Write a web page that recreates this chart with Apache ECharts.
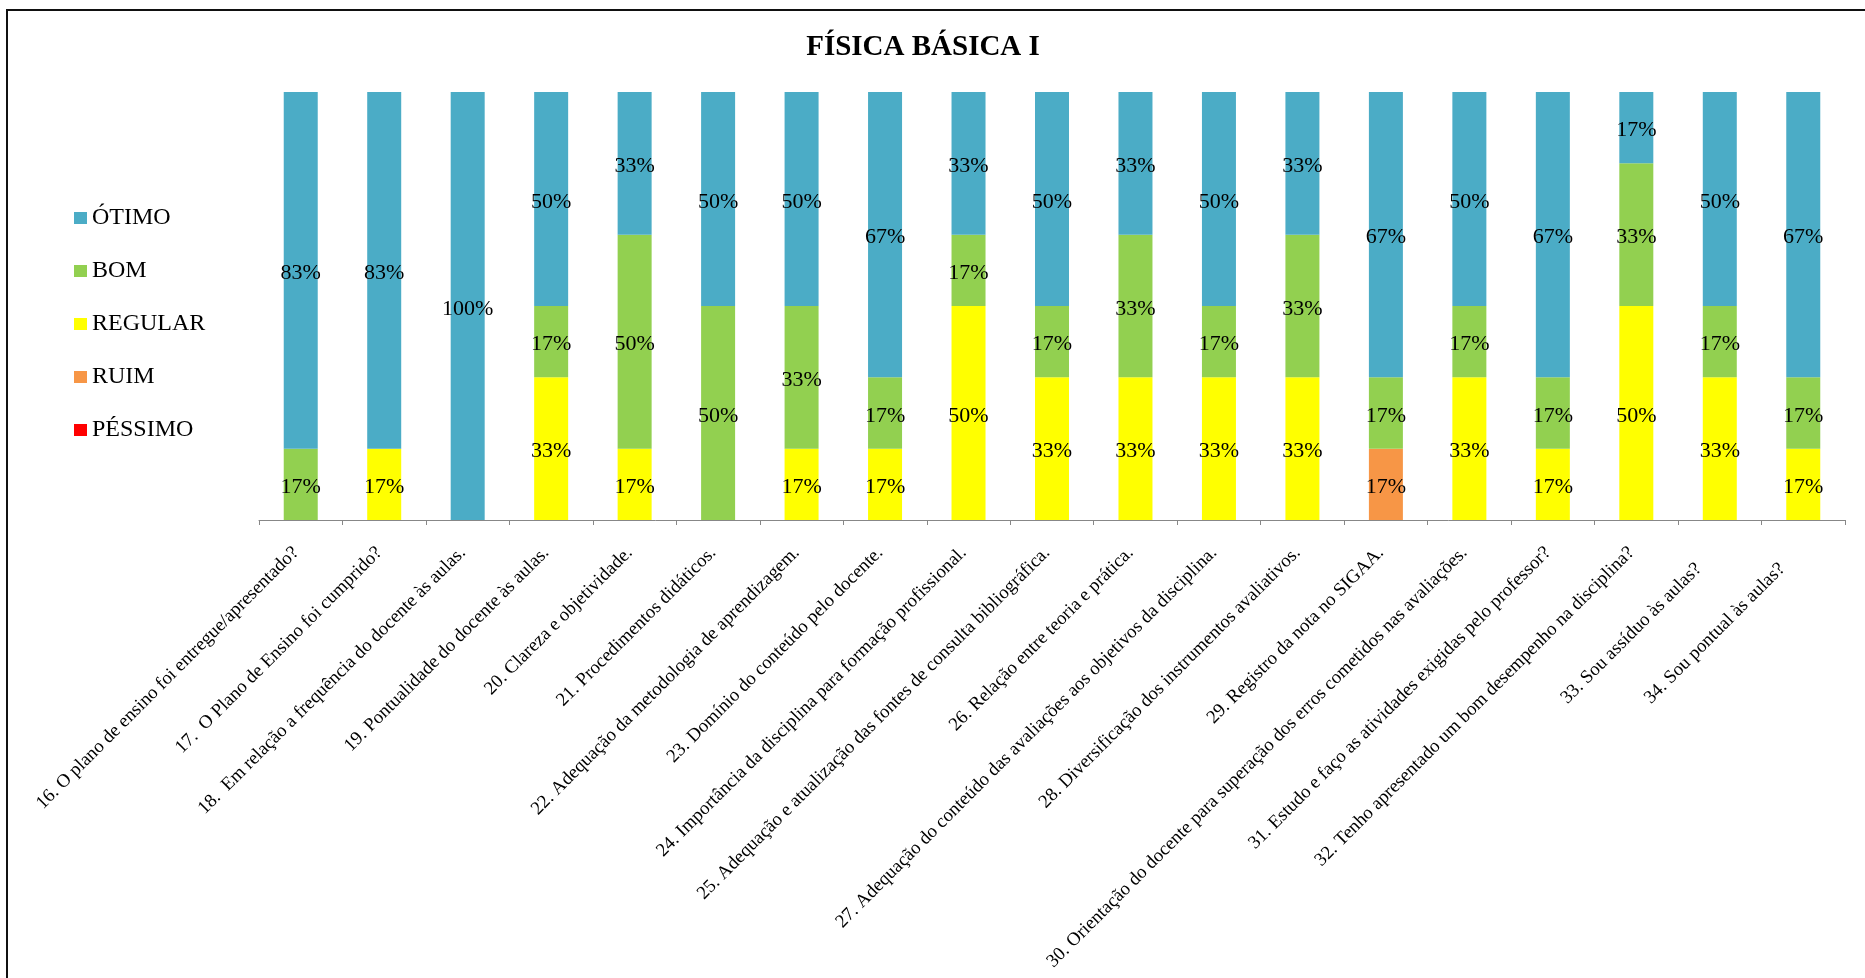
<!DOCTYPE html>
<html>
<head>
<meta charset="utf-8">
<script src="https://cdn.jsdelivr.net/npm/echarts@6/dist/echarts.min.js"></script>
<style>
  html, body { margin: 0; padding: 0; background: #fff; }
  #chart { width: 1865px; height: 978px; }
</style>
</head>
<body>
<div id="chart"></div>
<script>
const categories = [
  "16. O plano de ensino foi entregue/apresentado?",
  "17.  O Plano de Ensino foi cumprido?",
  "18.  Em relação a frequência do docente às aulas.",
  "19. Pontualidade do docente às aulas.",
  "20. Clareza e objetividade.",
  "21. Procedimentos didáticos.",
  "22. Adequação da metodologia de aprendizagem.",
  "23. Domínio do conteúdo pelo docente.",
  "24. Importância da disciplina para formação profissional.",
  "25. Adequação e atualização das fontes de consulta bibliográfica.",
  "26. Relação entre teoria e prática.",
  "27. Adequação do conteúdo das avaliações aos objetivos da disciplina.",
  "28. Diversificação dos instrumentos avaliativos.",
  "29. Registro da nota no SIGAA.",
  "30. Orientação do docente para superação dos erros cometidos nas avaliações.",
  "31. Estudo e faço as atividades exigidas pelo professor?",
  "32. Tenho apresentado um bom desempenho na disciplina?",
  "33. Sou assíduo às aulas?",
  "34. Sou pontual às aulas?"
];

// percentages (stacked bottom -> top: PÉSSIMO, RUIM, REGULAR, BOM, ÓTIMO)
const pessimo = [0,0,0,0,0,0,0,0,0,0,0,0,0,0,0,0,0,0,0];
const ruim    = [0,0,0,0,0,0,0,0,0,0,0,0,0,16.67,0,0,0,0,0];
const regular = [0,16.67,0,33.33,16.67,0,16.67,16.67,50,33.33,33.33,33.33,33.33,0,33.33,16.67,50,33.33,16.67];
const bom     = [16.67,0,0,16.67,50,50,33.33,16.67,16.67,16.67,33.33,16.67,33.33,16.67,16.67,16.67,33.33,16.67,16.67];
const otimo   = [83.33,83.33,100,50,33.33,50,50,66.67,33.33,50,33.33,50,33.33,66.67,50,66.67,16.67,50,66.67];

const seriesNames = ["PÉSSIMO", "RUIM", "REGULAR", "BOM", "ÓTIMO"];
const legendOrder = ["ÓTIMO", "BOM", "REGULAR", "RUIM", "PÉSSIMO"];
const colors = {"PÉSSIMO": "#FF0000", "RUIM": "#F79646", "REGULAR": "#FFFF00", "BOM": "#92D050", "ÓTIMO": "#4BACC6"};
const values = {"PÉSSIMO": pessimo, "RUIM": ruim, "REGULAR": regular, "BOM": bom, "ÓTIMO": otimo};

const FONT = "'Liberation Serif', 'Times New Roman', serif";

const chart = echarts.init(document.getElementById('chart'), null, {renderer: 'canvas'});

// Excel pushes the shortest rotated labels a little further back along their baseline
const shortLabels = new Set([17, 18]);

chart.setOption({
  animation: false,
  backgroundColor: '#ffffff',
  title: {
    text: 'FÍSICA BÁSICA I',
    left: 918,
    top: 28,
    textAlign: 'center',
    textStyle: { fontFamily: FONT, fontWeight: 'bold', fontSize: 29, color: '#000' }
  },
  legend: {
    orient: 'vertical',
    left: 69,
    top: 201,
    data: legendOrder,
    itemWidth: 13,
    itemHeight: 12,
    itemGap: 29,
    icon: 'rect',
    textStyle: { fontFamily: FONT, fontSize: 24, color: '#000', lineHeight: 24 }
  },
  grid: { left: 259, right: 20, top: 92, bottom: 458, containLabel: false },
  xAxis: {
    type: 'category',
    data: categories,
    axisLine: { lineStyle: { color: '#878787', width: 1 } },
    axisTick: { show: true, length: 5, alignWithLabel: false, lineStyle: { color: '#878787' } },
    axisLabel: {
      interval: 0,
      rotate: 45,
      margin: 25,
      fontFamily: FONT,
      fontSize: 18.8,
      color: '#000',
      formatter: (v, i) => (shortLabels.has(i) ? '{s|' + v + '}' : '{n|' + v + '}'),
      rich: {
        n: { fontFamily: FONT, fontSize: 18.8, color: '#000', padding: [0, 7, 0, 0] },
        s: { fontFamily: FONT, fontSize: 18.8, color: '#000', padding: [0, 30, 0, 0] }
      }
    }
  },
  yAxis: {
    type: 'value',
    min: 0,
    max: 100,
    show: false
  },
  graphic: [{
    type: 'polyline',
    shape: { points: [[7, 978], [7, 10], [1865, 10]] },
    style: { stroke: '#111', lineWidth: 2, fill: null },
    silent: true
  }],
  series: seriesNames.map(name => ({
    name: name,
    type: 'bar',
    stack: 'total',
    barWidth: 34,
    data: values[name],
    itemStyle: { color: colors[name] },
    label: {
      show: true,
      position: 'inside',
      offset: [0, 3],
      fontFamily: FONT,
      fontSize: 22,
      color: '#000',
      formatter: p => (p.value > 0 ? Math.round(p.value) + '%' : '')
    }
  }))
});
</script>
</body>
</html>
